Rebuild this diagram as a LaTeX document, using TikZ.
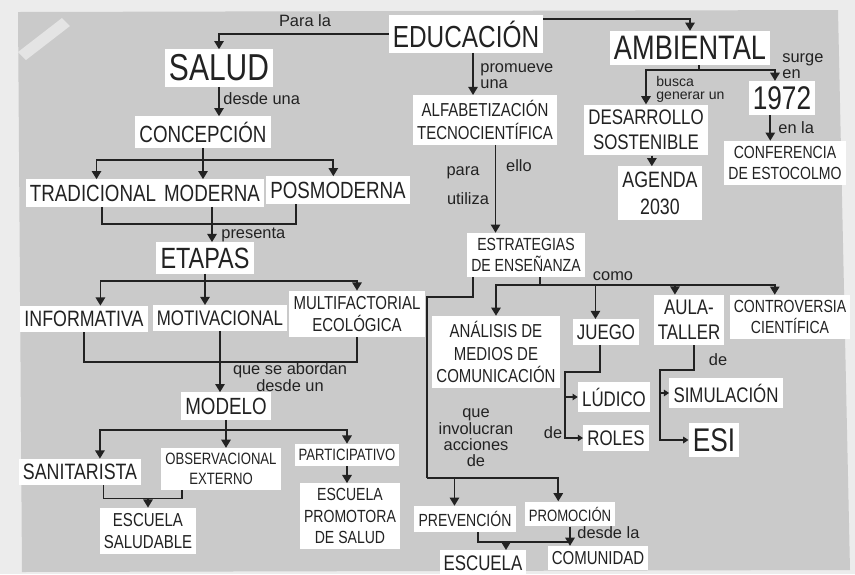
\documentclass[tikz,border=0pt]{standalone}
\usepackage{fontspec}
\newfontfamily\hand[FakeStretch=0.8]{Liberation Sans}
\newfontfamily\note{Liberation Sans}
\usetikzlibrary{positioning, calc, arrows.meta}
\definecolor{Paper}{HTML}{CACACA}
\definecolor{Wall}{HTML}{ECECEC}
\definecolor{Tape}{HTML}{E4E4E4}
\definecolor{Ink}{HTML}{222222}
\tikzset{
    card/.style={rectangle, fill=white, text=Ink, align=center, inner xsep=3.5pt, inner ysep=4.5pt, font=\hand\fontsize{#1}{\fpeval{1.2*#1}}\selectfont},
    card/.default=18,
    lbl/.style={text=Ink, align=left, inner sep=1pt, font=\note\fontsize{14}{14}\selectfont},
    link/.style={line width=1.5pt, color=Ink},
    arrow/.style={link, -{Triangle[length=7pt, width=8pt]}},
    tiparrow/.style={link, -{Triangle[length=4.5pt, width=5.5pt]}},
}
\begin{document}
\begin{tikzpicture}[x=0.03cm, y=-0.03cm]
    \useasboundingbox (0,0) rectangle (855,574);
    \fill[Wall] (0,0) rectangle (855,574);
    \fill[Paper] (18,12) -- (838,10) -- (850,570) -- (22,572) -- cycle;
    \fill[Tape] (18,52) -- (62,18) -- (70,26) -- (26,60) -- cycle;

    % rama central
    \node[card=26] (edu) at (466,34) {EDUCACIÓN};
    \node[card=16] (alfa) at (485,120) {ALFABETIZACIÓN\\TECNOCIENTÍFICA};
    \node[card=15] (estra) at (526,255) {ESTRATEGIAS\\DE ENSEÑANZA};
    \node[card=16] (anali) at (496,352) {ANÁLISIS DE\\MEDIOS DE\\COMUNICACIÓN};
    \node[card=18] (juego) at (606,332) {JUEGO};
    \node[card=18] (aula) at (689,320) {AULA-\\TALLER};
    \node[card=15] (contro) at (790,317) {CONTROVERSIA\\CIENTÍFICA};
    \node[card=18] (ludico) at (614,397) {LÚDICO};
    \node[card=18] (roles) at (616,438) {ROLES};
    \node[card=18] (simul) at (726,393) {SIMULACIÓN};
    \node[card=28] (esi) at (714,440) {ESI};
    \node[card=15] (preve) at (465,519) {PREVENCIÓN};
    \node[card=14] (promo) at (570,514) {PROMOCIÓN};
    \node[card=18] (escue) at (483,563) {ESCUELA};
    \node[card=16] (comun) at (598,558) {COMUNIDAD};

    % rama salud
    \node[card=32] (salud) at (219,68) {SALUD};
    \node[card=20] (concep) at (203,132) {CONCEPCIÓN};
    \node[card=20] (trad) at (93,193) {TRADICIONAL};
    \node[card=20] (moder) at (212,193) {MODERNA};
    \node[card=20] (posmo) at (338,190) {POSMODERNA};
    \node[card=25] (etapas) at (205,258) {ETAPAS};
    \node[card=19] (infor) at (84,319) {INFORMATIVA};
    \node[card=18] (motiv) at (220,318) {MOTIVACIONAL};
    \node[card=16] (multi) at (357,314) {MULTIFACTORIAL\\ECOLÓGICA};
    \node[card=20] (modelo) at (226,406) {MODELO};
    \node[card=19] (sanit) at (80,472) {SANITARISTA};
    \node[card=14] (obser) at (221,469) {OBSERVACIONAL\\EXTERNO};
    \node[card=14] (parti) at (347,455) {PARTICIPATIVO};
    \node[card=16] (esalu) at (148,531) {ESCUELA\\SALUDABLE};
    \node[card=15] (eprom) at (350,516) {ESCUELA\\PROMOTORA\\DE SALUD};

    % rama ambiental
    \node[card=29] (amb) at (690,48) {AMBIENTAL};
    \node[card=18] (desar) at (646,130) {DESARROLLO\\SOSTENIBLE};
    \node[card=19] (agenda) at (660,193) {AGENDA\\2030};
    \node[card=28] (y1972) at (782,98) {1972};
    \node[card=15] (confe) at (785,163) {CONFERENCIA\\DE ESTOCOLMO};

    % conectores de EDUCACIÓN
    \draw[arrow] (edu.west) -| (salud.north);
    \node[lbl] at (305,21) {Para la};
    \draw[arrow] ($(edu.north east)+(0,4)$) -| (amb.north);
    \draw[arrow] ([xshift=6pt]edu.south) -- ([xshift=6pt]edu.south |- alfa.north);
    \node[lbl, anchor=west] at (479,76) {promueve\\una};

    % SALUD
    \draw[arrow] (salud.south) -- (salud.south |- concep.north);
    \node[lbl, anchor=west] at (222,99) {desde una};
    \draw[arrow] (concep.south) -- (concep.south |- moder.north);
    \coordinate (cj) at ($(concep.south)+(0,12)$);
    \draw[arrow] (cj) -| ([xshift=3pt]trad.north);
    \draw[arrow] (cj) -| ([xshift=-4pt]posmo.north);
    \draw[link] ([xshift=8pt]trad.south) |- ($(etapas.north)+(0,-18)$) -| ([xshift=-36pt]posmo.south);
    \draw[arrow] (moder.south) -- (moder.south |- etapas.north);
    \node[lbl, anchor=west] at (220,235) {presenta};

    % ETAPAS
    \draw[arrow] (etapas.south) -- (etapas.south |- motiv.north);
    \coordinate (ej) at ($(etapas.south)+(0,7)$);
    \draw[arrow] (ej) -| ([xshift=14pt]infor.north);
    \draw[arrow] (ej) -| (multi.north);
    \draw[link] (infor.south) |- ($(modelo.north)+(0,-30)$) -| (multi.south);
    \draw[arrow] (motiv.south) -- (motiv.south |- modelo.north);
    \node[lbl, align=center] at (290,377) {que se abordan\\desde un};

    % MODELO
    \draw[arrow] (modelo.south) -- (modelo.south |- obser.north);
    \coordinate (mj) at ($(modelo.south)+(0,10)$);
    \draw[arrow] (mj) -| ([xshift=17pt]sanit.north);
    \draw[arrow] (mj) -| (parti.north);
    \coordinate (sj) at ($(esalu.north)+(0,-9)$);
    \draw[link] ([xshift=20pt]sanit.south) |- (sj) -| ([xshift=-33pt]obser.south);
    \draw[arrow] (sj) -- (esalu.north);
    \draw[arrow] (parti.south) -- (parti.south |- eprom.north);

    % AMBIENTAL
    \draw[link] ([xshift=8pt]amb.south) -- ++(0,5) coordinate (aj);
    \draw[arrow] (aj) -| (desar.north);
    \draw[arrow] (aj) -| ([xshift=-6pt]y1972.north);
    \node[lbl, anchor=west, font=\note\fontsize{12}{11}\selectfont] at (655,89) {busca\\generar un};
    \node[lbl, anchor=west] at (781,66) {surge\\en};
    \draw[arrow] ([xshift=5pt]desar.south) -- ([xshift=5pt]desar.south |- agenda.north);
    \draw[arrow] ([xshift=-10pt]y1972.south) -- ([xshift=-10pt]y1972.south |- confe.north);
    \node[lbl, anchor=west] at (777,128) {en la};

    % ALFABETIZACIÓN y ESTRATEGIAS
    \draw[arrow] ([xshift=9pt]alfa.south) -- ([xshift=9pt]alfa.south |- estra.north);
    \node[lbl] at (463,173) {para};
    \node[lbl] at (519,166) {ello};
    \node[lbl] at (468,199) {utiliza};
    \draw[link] ([xshift=12pt]estra.south) -- ++(0,8) coordinate (sj2);
    \draw[arrow] (sj2) -| (anali.north);
    \draw[arrow] (sj2) -| ([xshift=-9pt]juego.north);
    \draw[arrow] (sj2) -| ([xshift=-12pt]aula.north);
    \draw[arrow] (sj2) -| ([xshift=-13pt]contro.north);
    \node[lbl] at (613,276) {como};

    % acciones
    \coordinate (pv) at (427,478);
    \draw[link] ([xshift=-45pt]estra.south) -- ++(0,20) -| (pv);
    \draw[arrow] (pv) -| ([xshift=-9pt]preve.north);
    \draw[arrow] (pv) -| ([xshift=-10pt]promo.north);
    \node[lbl, align=center] at (476,438) {que\\involucran\\acciones\\de};
    \coordinate (ev) at (506,542);
    \draw[link] ([xshift=11pt]preve.south) |- (promo.south |- ev);
    \draw[arrow] (ev) -- (ev |- escue.north);
    \draw[arrow] (promo.south) -- (promo.south |- comun.north);
    \node[lbl, anchor=west] at (576,533) {desde la};

    % JUEGO y AULA-TALLER
    \coordinate (jv) at (565,372);
    \draw[tiparrow] ([xshift=-5pt]juego.south) |- (jv) |- (roles.west);
    \draw[tiparrow] (jv |- ludico.west) -- (ludico.west);
    \node[lbl] at (553,433) {de};
    \coordinate (tv) at (660,370);
    \draw[tiparrow] ([xshift=4pt]aula.south) |- (tv) |- (esi.west);
    \draw[tiparrow] (tv |- simul.west) -- (simul.west);
    \node[lbl] at (718,360) {de};
\end{tikzpicture}
\end{document}
